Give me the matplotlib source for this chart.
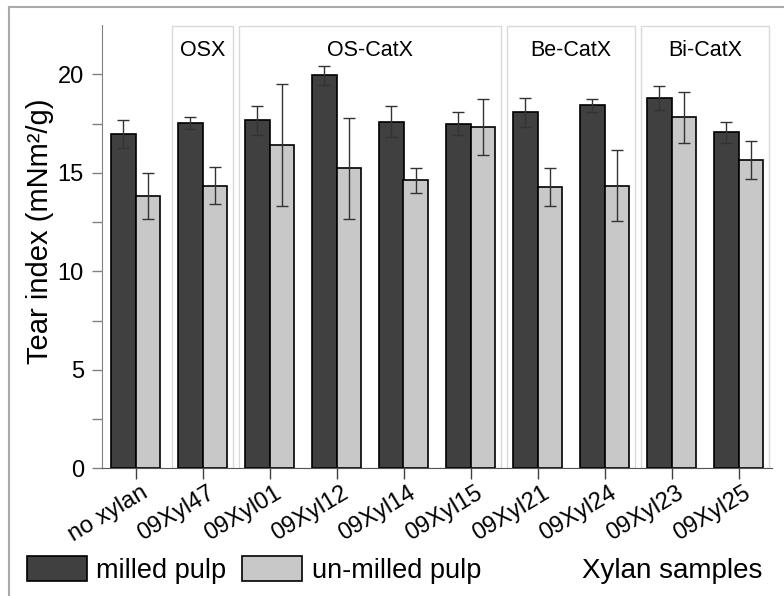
import matplotlib.pyplot as plt
import matplotlib.transforms as mtransforms
from matplotlib.patches import Rectangle, Patch
from matplotlib.lines import Line2D
import numpy as np

plt.rcParams['font.family'] = ['Liberation Sans', 'DejaVu Sans']

# data
samples = ["no xylan", "09Xyl47", "09Xyl01", "09Xyl12", "09Xyl14",
           "09Xyl15", "09Xyl21", "09Xyl24", "09Xyl23", "09Xyl25"]
milled = [16.98, 17.54, 17.66, 19.94, 17.59, 17.50, 18.06, 18.42, 18.79, 17.05]
milled_err = [0.70, 0.30, 0.75, 0.47, 0.80, 0.60, 0.73, 0.34, 0.61, 0.52]
unmilled = [13.83, 14.34, 16.40, 15.23, 14.62, 17.33, 14.29, 14.35, 17.81, 15.66]
unmilled_err = [1.17, 0.95, 3.10, 2.56, 0.63, 1.42, 0.96, 1.80, 1.30, 0.96]

# xylan groups: (name, first sample index, last sample index)
group_names = ["OSX", "OS-CatX", "Be-CatX", "Bi-CatX"]
group_first = [1, 2, 6, 8]
group_last = [1, 5, 7, 9]

dark = "#404040"
light = "#c8c8c8"

fig = plt.figure(figsize=(7.84, 5.96), dpi=100)
ax = fig.add_axes([102 / 784, 1 - 468.3 / 596, 670 / 784, 443.3 / 596])

x = np.arange(len(samples))
w = 0.36

# group boxes behind the bars
for name, a, b in zip(group_names, group_first, group_last):
    x0 = a - 0.46
    x1 = min(b + 0.46, 9.5)
    ax.add_patch(Rectangle((x0, 0), x1 - x0, 22.44, fill=False,
                           edgecolor="#d9d9d9", lw=1.0, zorder=0))
    ax.text((a + b) / 2, 21.2, name, ha="center", va="center", fontsize=15.5)

ax.bar(x - w / 2, milled, w, color=dark, edgecolor="black", lw=1.2, zorder=2)
ax.bar(x + w / 2, unmilled, w, color=light, edgecolor="black", lw=1.2, zorder=2)
ax.errorbar(x - w / 2, milled, yerr=milled_err, fmt="none", ecolor="#333333",
            elinewidth=1, capsize=4, capthick=1, zorder=3)
ax.errorbar(x + w / 2, unmilled, yerr=unmilled_err, fmt="none", ecolor="#333333",
            elinewidth=1, capsize=4, capthick=1, zorder=3)

ax.set_xlim(-0.5, 9.5)
ax.set_ylim(0, 22.5)
ax.set_yticks([0, 5, 10, 15, 20])
ax.set_yticks(np.arange(2.5, 22.5, 5), minor=True)
ax.tick_params(axis="y", which="both", direction="out", length=7, width=1,
               color="#808080", labelsize=17, pad=6)
ax.set_xticks(x)
ax.set_xticklabels(samples, rotation=31, ha="right", va="top",
                   rotation_mode="anchor", fontsize=17)
ax.tick_params(axis="x", direction="out", length=8, width=1, color="#404040", pad=2)
offset = mtransforms.ScaledTranslation(0.05, 0.0, fig.dpi_scale_trans)
for lab in ax.get_xticklabels():
    lab.set_transform(lab.get_transform() + offset)

for s in ["top", "right"]:
    ax.spines[s].set_visible(False)
ax.spines["left"].set_color("#808080")
ax.spines["bottom"].set_color("#555555")

fig.text(40 / 784, 1 - 231 / 596, "Tear index (mNm²/g)", rotation=90,
         ha="center", va="center", fontsize=21)

handles = [Patch(facecolor=dark, edgecolor="black", lw=1.2, label="milled pulp"),
           Patch(facecolor=light, edgecolor="black", lw=1.2, label="un-milled pulp")]
fig.legend(handles=handles, loc="center left",
           bbox_to_anchor=(27 / 784, 1 - 570 / 596), ncol=2, frameon=False,
           fontsize=19.5, handlelength=2.2, handleheight=1.0,
           handletextpad=0.35, columnspacing=0.6, borderpad=0, borderaxespad=0)
fig.text(762 / 784, 1 - 571 / 596, "Xylan samples", ha="right", va="center",
         fontsize=20)

# outer frame lines (left and top)
fig.add_artist(Line2D([9 / 784, 9 / 784], [0, 1 - 7 / 596], color="#aaaaaa", lw=1.5,
                      transform=fig.transFigure))
fig.add_artist(Line2D([9 / 784, 1], [1 - 7 / 596, 1 - 7 / 596], color="#aaaaaa", lw=1.5,
                      transform=fig.transFigure))

fig.savefig("out.png", dpi=100)
